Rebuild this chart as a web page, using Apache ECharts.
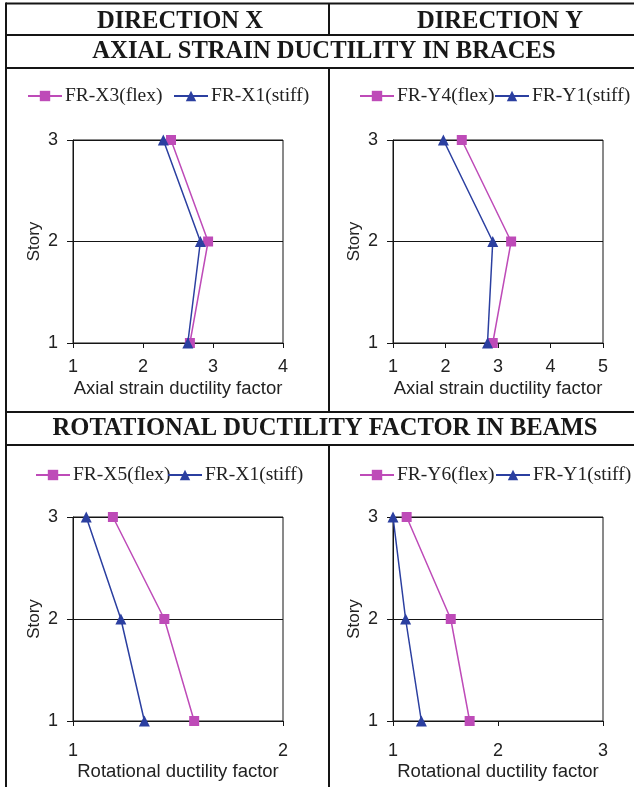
<!DOCTYPE html>
<html>
<head>
<meta charset="utf-8">
<script src="https://cdn.jsdelivr.net/npm/echarts@6/dist/echarts.min.js"></script>
<style>
  html, body { margin: 0; padding: 0; background: #fff; }
  #chart { width: 634px; height: 787px; }
</style>
</head>
<body>
<div id="chart"></div>
<script>
// Story levels (shared by all four panels)
const stories = [1, 2, 3];

// Axial strain ductility in braces
const axialXFlex = [2.67, 2.93, 2.40];   // FR-X3(flex)
const axialXStiff = [2.64, 2.82, 2.29];  // FR-X1(stiff)
const axialYFlex = [2.90, 3.25, 2.31];   // FR-Y4(flex)
const axialYStiff = [2.80, 2.90, 1.96];  // FR-Y1(stiff)

// Rotational ductility factor in beams
const rotXFlex = [1.577, 1.435, 1.19];   // FR-X5(flex)
const rotXStiff = [1.34, 1.228, 1.063];  // FR-X1(stiff)
const rotYFlex = [1.73, 1.55, 1.13];     // FR-Y6(flex)
const rotYStiff = [1.27, 1.12, 1.00];    // FR-Y1(stiff)

// Axis ranges of the four panels
const xRanges = [[1, 4], [1, 5], [1, 2], [1, 3]];

const headerTexts = ['DIRECTION X', 'DIRECTION Y',
  'AXIAL STRAIN DUCTILITY IN BRACES', 'ROTATIONAL DUCTILITY FACTOR IN BEAMS'];
const xNames = ['Axial strain ductility factor', 'Axial strain ductility factor',
  'Rotational ductility factor', 'Rotational ductility factor'];
const panelSeries = [
  [['FR-X3(flex)', axialXFlex], ['FR-X1(stiff)', axialXStiff]],
  [['FR-Y4(flex)', axialYFlex], ['FR-Y1(stiff)', axialYStiff]],
  [['FR-X5(flex)', rotXFlex], ['FR-X1(stiff)', rotXStiff]],
  [['FR-Y6(flex)', rotYFlex], ['FR-Y1(stiff)', rotYStiff]]
];

const PINK = '#BE4BB8';
const BLUE = '#2B3FA0';
const INK = '#151515';
const SANS = 'Liberation Sans, Arial, sans-serif';
const SERIF = 'Liberation Serif, Times New Roman, serif';

// panel layout
const grids = [
  { left: 73, top: 140, width: 210, height: 203 },
  { left: 393, top: 140, width: 210, height: 203 },
  { left: 73, top: 517, width: 210, height: 204 },
  { left: 393, top: 517, width: 210, height: 204 }
];
const labelMargins = [15, 15, 21, 21];
const nameGaps = [36, 36, 41, 41];
const legendPos = [
  [{ left: 27, top: 86 }, { left: 173, top: 86 }],
  [{ left: 359, top: 86 }, { left: 494, top: 86 }],
  [{ left: 35, top: 465 }, { left: 167, top: 465 }],
  [{ left: 359, top: 465 }, { left: 495, top: 465 }]
];

const xAxes = [], yAxes = [], series = [], legends = [];
grids.forEach((g, i) => {
  g.show = true;
  g.borderColor = INK;
  g.borderWidth = 1;
  g.backgroundColor = 'transparent';
  xAxes.push({
    gridIndex: i, type: 'value', min: xRanges[i][0], max: xRanges[i][1], interval: 1,
    name: xNames[i], nameLocation: 'middle', nameGap: nameGaps[i],
    nameTextStyle: { fontFamily: SANS, fontSize: 18.5, color: '#222' },
    axisLine: { show: true, lineStyle: { color: INK, width: 1 } },
    axisTick: { show: true, inside: false, length: 5, lineStyle: { color: INK } },
    axisLabel: { fontFamily: SANS, fontSize: 18, color: '#222', margin: labelMargins[i] },
    splitLine: { show: false }
  });
  yAxes.push({
    gridIndex: i, type: 'value', min: 1, max: 3, interval: 1,
    name: 'Story', nameLocation: 'middle', nameGap: 30, nameRotate: 90,
    nameTextStyle: { fontFamily: SANS, fontSize: 17, color: '#222' },
    axisLine: { show: true, lineStyle: { color: INK, width: 1 } },
    axisTick: { show: true, inside: false, length: 6, lineStyle: { color: INK } },
    axisLabel: { fontFamily: SANS, fontSize: 18, color: '#222', margin: 15 },
    splitLine: { show: true, lineStyle: { color: INK, width: 1 } }
  });
  panelSeries[i].forEach(([name, vals], k) => {
    const flex = k === 0;
    series.push({
      type: 'line', name: name, xAxisIndex: i, yAxisIndex: i,
      data: vals.map((v, j) => [v, stories[j]]),
      symbol: flex ? 'rect' : 'triangle',
      symbolSize: flex ? 10 : 11,
      showSymbol: true, clip: false,
      color: flex ? PINK : BLUE,
      itemStyle: { color: flex ? PINK : BLUE },
      lineStyle: { color: flex ? PINK : BLUE, width: 1.5 },
      z: flex ? 3 : 4
    });
    legends.push({
      data: [name], left: legendPos[i][k].left, top: legendPos[i][k].top,
      orient: 'horizontal', itemWidth: 34, itemHeight: 13, itemGap: 0,
      selectedMode: false, padding: 0,
      textStyle: { fontFamily: SERIF, fontSize: 19.5, color: '#222', padding: [0, 0, 0, -2] }
    });
  });
});

// table rules
const rule = (x1, y1, x2, y2) => ({
  type: 'line', shape: { x1, y1, x2, y2 },
  style: { stroke: INK, lineWidth: 2 }, silent: true
});
const header = (text, x, y) => ({
  type: 'text', x, y, silent: true,
  style: { text, fontFamily: SERIF, fontWeight: 'bold', fontSize: 24.6,
    fill: '#181818', align: 'center', verticalAlign: 'middle' }
});

const graphic = [
  rule(6, 3.5, 634, 3.5),
  rule(6, 2.5, 6, 787),
  rule(6, 35, 634, 35),
  rule(6, 68, 634, 68),
  rule(6, 412, 634, 412),
  rule(6, 445, 634, 445),
  rule(329, 3, 329, 35),
  rule(329, 68, 329, 412),
  rule(329, 445, 329, 787),
  header(headerTexts[0], 180, 22),
  header(headerTexts[1], 500, 22),
  header(headerTexts[2], 324, 52),
  header(headerTexts[3], 325, 429)
];

const chart = echarts.init(document.getElementById('chart'), null, { renderer: 'canvas' });
chart.setOption({
  animation: false,
  backgroundColor: '#fff',
  grid: grids,
  xAxis: xAxes,
  yAxis: yAxes,
  legend: legends,
  series: series,
  graphic: graphic
});
</script>
</body>
</html>
